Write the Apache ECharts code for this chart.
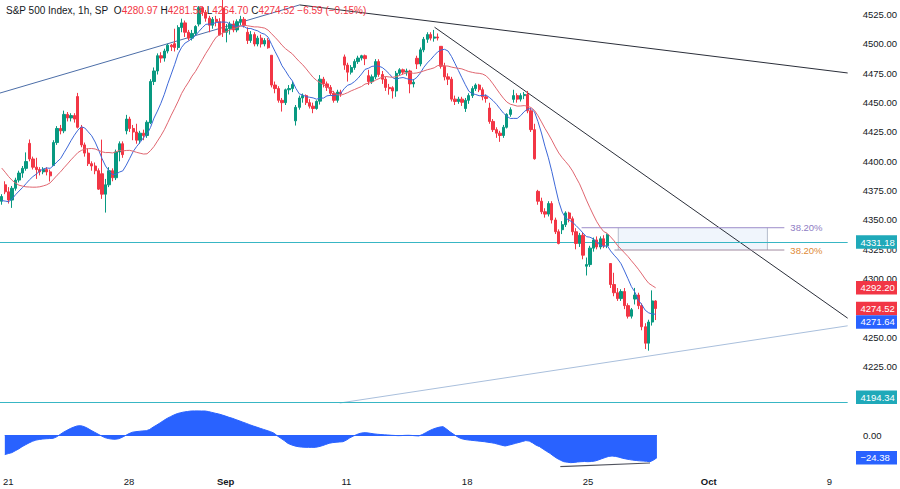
<!DOCTYPE html>
<html><head><meta charset="utf-8">
<script src="https://cdn.jsdelivr.net/npm/echarts/dist/echarts.min.js"></script>
<style>html,body{margin:0;padding:0;background:#fff}#c{width:900px;height:489px}</style>
</head><body><div id="c"></div>
<script>
// ---------- data ----------
const tradingDays = ['08-18','08-21','08-22','08-23','08-24','08-25','08-28','08-29','08-30','08-31','09-01',
  '09-05','09-06','09-07','09-08','09-11','09-12','09-13','09-14','09-15','09-18','09-19','09-20','09-21','09-22',
  '09-25','09-26','09-27','09-28','09-29','10-02','10-03','10-04','10-05','10-06','10-09'];
const sessionHours = ['09:30','10:30','11:30','12:30','13:30','14:30','15:30'];
const xTickLabels = {'08-21 09:30':'21','08-28 09:30':'28','09-01 09:30':'Sep','09-11 09:30':'11',
  '09-18 09:30':'18','09-25 09:30':'25','10-02 09:30':'Oct','10-09 09:30':'9'};
const boldTicks = ['Sep','Oct'];
// price-scale ticks that are visible (the others sit behind price tags)
const priceTicks = [4225, 4250, 4300, 4325, 4350, 4375, 4400, 4425, 4450, 4475, 4500, 4525];

const opens = [4366,
 4380,4374,4367,4377,4384,4390,4394,
 4415.3,4402,4395,4393,4391,4393,4391,
 4396.4,4416,4428,4426,4440,4437,4439,
 4455.2,4429,4414,4407,4398,4396,4392,
 4389.4,4372,4380,4392,4386,4408,4415,
 4426,4436,4428,4425,4418,4424,4422,
 4432.8,4468,4477,4490,4488,4494,4499,
 4500.3,4497,4514,4518,4510,4505,4509,
 4517,4531,4527,4522,4516,4521,4519,
 4530.6,4510,4513,4517,4512,4519,4521,
 4510,4503,4508,4500,4505,4500,4503,
 4490.4,4465,4462,4452,4450,4461,4462,
 4434.5,4446,4454,4456,4450,4447,4445,
 4451.3,4470,4466,4463,4458,4452,4459,
 4489,4482,4476,4480,4485,4488,4490,
 4473,4468,4472,4485,4474,4470,4463,
 4462.7,4460,4475,4478,4476,4477,4466,
 4487.8,4483,4495,4504,4508,4505,4506,
 4498,4481,4472,4470,4453,4451,4453,
 4445,4452,4456,4462,4465,4461,4455,
 4445.4,4434,4427,4424,4422,4429,4440,
 4452.8,4456,4453,4456,4457,4443,4427,
 4374.4,4366,4357,4355,4364,4350,4340,
 4341.7,4346,4356,4351,4340,4330,4337,
 4310.6,4312,4326,4333,4327,4334,4328,
 4312.9,4295,4288,4283,4289,4277,4268,
 4282.6,4286,4277,4259,4245,4263,4280.97];
const closes = [4370,
 4374,4367,4377,4384,4390,4394,4399.8,
 4402,4395,4393,4391,4393,4391,4387.6,
 4416,4428,4426,4440,4437,4439,4436,
 4429,4414,4407,4398,4396,4392,4376.3,
 4372,4380,4392,4386,4408,4415,4405.7,
 4436,4428,4425,4418,4424,4422,4433.3,
 4468,4477,4490,4488,4494,4499,4497.6,
 4497,4514,4518,4510,4505,4509,4514.9,
 4531,4527,4522,4516,4521,4519,4507.7,
 4510,4513,4517,4512,4519,4521,4515.8,
 4503,4508,4500,4505,4500,4503,4496.8,
 4465,4462,4452,4450,4461,4462,4465.5,
 4446,4454,4456,4450,4447,4445,4451.1,
 4470,4466,4463,4458,4452,4459,4457.5,
 4482,4476,4480,4485,4488,4490,4487.5,
 4468,4472,4485,4474,4470,4463,4461.9,
 4460,4475,4478,4476,4477,4466,4467.4,
 4483,4495,4504,4508,4505,4506,4505.1,
 4481,4472,4470,4453,4451,4453,4450.3,
 4452,4456,4462,4465,4461,4455,4453.5,
 4434,4427,4424,4422,4429,4440,4444,
 4456,4453,4456,4457,4443,4427,4402.2,
 4366,4357,4355,4364,4350,4340,4330,
 4346,4356,4351,4340,4330,4337,4320,
 4312,4326,4333,4327,4334,4328,4337.4,
 4295,4288,4283,4289,4277,4268,4273.5,
 4286,4277,4259,4245,4263,4281,4274.52];
const lows = [4363,
 4372,4364,4360.3,4375,4382,4386,4392,
 4400,4393,4385,4388,4389,4388,4382.8,
 4396.4,4414,4423,4424,4434,4434,4433,
 4428,4412,4404,4396,4392,4389,4375.6,
 4368,4356.3,4378,4383,4384,4400,4403,
 4423,4425,4418,4415,4415,4418,4420,
 4431.7,4465,4474,4484,4485,4492,4494,
 4493.6,4495,4510,4506,4503,4503,4507,
 4515,4524,4519,4510,4513,4515,4507.4,
 4506,4501.4,4508,4510,4510,4516,4514,
 4500,4501,4498,4498,4497,4498,4496,
 4463,4458,4450,4442.4,4448,4457,4459,
 4430.5,4444,4450,4448,4445,4441,4444,
 4448.4,4463,4460,4456,4450,4450,4455,
 4478,4468,4474,4478,4483,4486,4482,
 4465,4466,4470,4472,4466,4460,4456.8,
 4453.5,4455,4473,4474,4473,4458,4463,
 4478.7,4481,4493,4501,4503,4502,4503,
 4479,4469,4465,4451,4448,4449,4447.2,
 4442.1,4449,4454,4460,4459,4452,4450,
 4432,4425,4420,4416.6,4420,4428,4438,
 4450,4450,4451,4453,4441,4425,4401.4,
 4363,4355,4352,4353,4347,4338,4329.2,
 4338,4344,4348,4337,4325,4327,4316.5,
 4302.7,4310,4323,4325,4325,4326,4326,
 4292,4285,4281,4281,4274,4266,4266,
 4278,4274,4256,4240,4238.6,4260,4264.7];
const highs = [4372,
 4383,4378,4379,4386,4392,4396,4407.6,
 4418.6,4404,4403,4395,4395,4395,4393,
 4418,4430,4431,4443.2,4442,4441,4441,
 4458.3,4431,4416,4411,4400,4399,4394,
 4418.5,4385,4395,4394,4410,4417,4417,
 4439.6,4438,4431,4432,4426,4427,4435,
 4470,4480,4492,4493,4496,4500.1,4500,
 4513,4516,4521.6,4520,4512,4512,4516,
 4532.3,4532,4529,4524,4523,4524,4522,
 4541.3,4517,4519,4520,4521,4524,4523,
 4514.3,4511,4510,4507,4508,4505,4505,
 4490.4,4468,4464,4454,4462,4465,4468,
 4448,4456,4457.8,4457,4453,4450,4452,
 4473.5,4472,4468,4465,4460,4461,4461,
 4491,4484,4482,4487,4490,4490.8,4491,
 4478,4474,4487.1,4487,4477,4472,4466,
 4464,4477,4479.4,4479,4479,4478,4470,
 4490,4497,4506,4510,4510,4512,4509,
 4498,4484,4475,4472,4456,4455,4455,
 4454,4458,4464,4466.4,4466,4463,4457,
 4449.9,4436,4429,4426,4431,4441,4446,
 4461,4458,4458,4459,4460,4445,4432,
 4375.7,4369,4360,4366,4366,4352,4342,
 4349,4357.4,4357,4353,4343,4339,4339,
 4318,4328,4335,4336,4336,4337,4338.5,
 4313,4305,4292,4291,4292,4279,4275,
 4292.1,4288,4279,4262,4265,4290,4281.58];
// closes of the bars just left of the visible window (moving-average warm-up)
const warmupCloses = [4445,4442,4440,4432,4425,4410,4412,4405,4398,4392,4385,4378,4372,4355,4352,4362,4368,4370,4372];

const oscillator = [
 -21,-20,-19,-17,-15,-12.5,-10.5,-8.5,-6.8,-5.5,
 -4.8,-4.3,-4,-3.8,-3.6,-2,0.5,3,5,7,
 8.5,9.8,10,9,7.2,5,3,1,-1,-2.8,
 -3.8,-4.4,-4.6,-4,-2.5,-0.5,1.5,3,3.6,4,
 4.4,4.6,6,8.5,10.7,13,15.5,17.8,19.7,21.5,
 23,24,24.8,25.3,25.8,25.9,25.9,25.8,25.8,25.2,
 24.3,23.4,22.6,21.5,20.3,19,17.9,16.5,15.2,13.8,
 12.5,11,9.7,8.5,7.2,6,4.8,3.6,2,-1,
 -3.5,-6,-8.9,-10.5,-11.7,-12.5,-13,-13.2,-13.3,-13.3,
 -13.3,-12.5,-11.5,-10.2,-8.9,-8.2,-7.8,-7.5,-7.2,-5.5,
 -3,-1.2,0.5,1.8,2.5,2.3,1.8,1.2,0.8,0.5,
 0.2,0,-0.3,-0.5,-0.7,-0.6,-0.4,-0.3,-0.5,-0.8,
 -1,0.5,2.5,4.5,6.2,7.5,8.5,9,6.5,3.5,
 1,-1.5,-3.5,-4.6,-5.2,-5.6,-6,-6.4,-6.8,-7.2,
 -7.8,-8.3,-9,-10,-11,-11.8,-11,-10,-9,-8,
 -7,-6,-6.5,-8.5,-11,-12.5,-15,-17.5,-19.7,-22.5,
 -25,-27,-28.7,-29.2,-29.7,-29.5,-29,-28.7,-28.5,-28.7,
 -28.5,-28,-26.9,-25.5,-24.2,-23,-22.6,-23,-23.8,-25,
 -25.7,-26.4,-27,-27.4,-27.8,-28,-28.3,-28.7,-27,-24.38];

const horizontalLevels = [4331.18, 4194.34];
const trendLineRising = [[-0.5, 4458.2], [86.1, 4533.3]];
const trendLineUpperFalling = [[86.1, 4533.3], [244.5, 4475.3]];
const trendLineLowerFalling = [[125.1, 4514.3], [244.5, 4266.3]];
const trendLineSupport = [[97.7, 4194.0], [244.5, 4259.8]];
const fibLevels = [4343.4, 4324.4];
const fibLineSpans = [[167.6, 226.2], [177.1, 226.2]];
const fibBoxSpan = [178.2, 221.3];
const oscDivergence = [[161, -33.9], [187, -30.1]];
const priceTags = [[4331.18, '#1fa9b9'], [4292.20, '#f23645'], [4274.52, '#f23645'], [4271.64, '#2962ff'], [4194.34, '#1fa9b9']];
const oscTag = -24.38;
const legendValues = {O: '4280.97', H: '4281.58', L: '4264.70', C: '4274.52', chg: '−6.59 (−0.15%)'};

// ---------- build ----------
const allCats = [];
tradingDays.forEach(d => sessionHours.forEach(h => allCats.push(d + ' ' + h)));
const cats = allCats.slice(6, 6 + 245);
const candles = opens.map((o, i) => [o, closes[i], lows[i], highs[i]]);
function sma(n) {
  const all = warmupCloses.concat(closes);
  const w = warmupCloses.length;
  return closes.map((_, i) => {
    let s = 0;
    for (let k = i + w - n + 1; k <= i + w; k++) s += all[k];
    return +(s / n).toFixed(2);
  });
}
const FONT = '"Liberation Sans", Arial, sans-serif';
const GRID_W = 848.4;
const chart = echarts.init(document.getElementById('c'), null, {renderer: 'svg'});

const seg = (data, color, width, extra) => Object.assign({
  type: 'line', xAxisIndex: 2, yAxisIndex: 0, data: data, symbol: 'none', silent: true,
  lineStyle: {color: color, width: width || 1}, z: 4, animation: false
}, extra || {});

chart.setOption({
  animation: false,
  backgroundColor: '#ffffff',
  grid: [
    {left: 0, top: 0, width: GRID_W, height: 425.3},
    {left: 0, top: 406, width: GRID_W, height: 61}
  ],
  xAxis: [
    {type: 'category', gridIndex: 0, data: cats, boundaryGap: true, show: false},
    {type: 'category', gridIndex: 1, data: cats, boundaryGap: true,
      axisLine: {show: false}, axisTick: {show: false}, splitLine: {show: false},
      axisLabel: {
        margin: 9, interval: (i, v) => xTickLabels[v] !== undefined,
        formatter: v => { const t = xTickLabels[v]; if (!t) return ''; return boldTicks.includes(t) ? '{b|' + t + '}' : t; },
        color: '#131722', fontSize: 9.5, fontFamily: FONT,
        rich: {b: {fontWeight: 'bold', fontSize: 9.5, fontFamily: FONT, color: '#131722'}}
      }},
    {type: 'value', gridIndex: 0, min: -0.5, max: 244.5, show: false}
  ],
  yAxis: [
    {type: 'value', gridIndex: 0, position: 'right', min: 4175, max: 4537.5, interval: 25, scale: true,
      axisLine: {show: false}, axisTick: {show: false}, splitLine: {show: false},
      axisLabel: {margin: 15, color: '#131722', fontSize: 9.5, fontFamily: FONT,
        formatter: v => priceTicks.some(t => Math.abs(t - v) < 1e-6) ? v.toFixed(2) : ''}},
    {type: 'value', gridIndex: 1, position: 'right', min: -34.4, max: 31.18,
      axisLine: {show: false}, axisTick: {show: false}, splitLine: {show: false}, axisLabel: {show: false}}
  ],
  series: [
    {type: 'candlestick', xAxisIndex: 0, yAxisIndex: 0, data: candles, barWidth: '80%', z: 5,
      itemStyle: {color: '#089981', color0: '#f23645', borderColor: '#089981', borderColor0: '#f23645', borderWidth: 1},
      markLine: {silent: true, symbol: 'none', label: {show: false},
        lineStyle: {color: '#38b6c4', width: 1, type: 'solid'},
        data: horizontalLevels.map(v => ({yAxis: v}))}},
    {type: 'line', xAxisIndex: 0, yAxisIndex: 0, data: sma(9), symbol: 'none', z: 6,
      lineStyle: {color: '#3d68d8', width: 1}},
    {type: 'line', xAxisIndex: 0, yAxisIndex: 0, data: sma(20), symbol: 'none', z: 6,
      lineStyle: {color: '#e06670', width: 1}},
    seg(trendLineRising, '#4c6ea8', 1),
    seg(trendLineUpperFalling, '#2a2e39', 1),
    seg(trendLineLowerFalling, '#2a2e39', 1),
    seg(trendLineSupport, '#a9bfdc', 1),
    seg([[fibBoxSpan[0], fibLevels[0]], [fibBoxSpan[0], fibLevels[1]]], '#b4bccc', 1, {
      z: 2,
      markArea: {silent: true, itemStyle: {color: 'rgba(222,232,248,0.45)'},
        data: [[{coord: [fibBoxSpan[0], fibLevels[0]]}, {coord: [fibBoxSpan[1], fibLevels[1]]}]]}}),
    seg([[fibBoxSpan[1], fibLevels[0]], [fibBoxSpan[1], fibLevels[1]]], '#b4bccc', 1, {z: 2}),
    seg([[fibLineSpans[0][0], fibLevels[0]], [fibLineSpans[0][1], fibLevels[0]]], '#9d8cc9', 1, {
      endLabel: {show: true, formatter: '38.20%', color: '#8e7cc3', fontSize: 9.5, fontFamily: FONT, distance: 6}}),
    seg([[fibLineSpans[1][0], fibLevels[1]], [fibLineSpans[1][1], fibLevels[1]]], '#a38ca0', 1, {
      endLabel: {show: true, formatter: '38.20%', color: '#e08a36', fontSize: 9.5, fontFamily: FONT, distance: 6}}),
    {type: 'line', xAxisIndex: 1, yAxisIndex: 1, data: oscillator, symbol: 'none', z: 3,
      lineStyle: {color: '#2962ff', width: 1}, areaStyle: {color: '#2962ff', opacity: 1, origin: 0},
      markLine: {silent: true, symbol: 'none', label: {show: false}, lineStyle: {color: '#2962ff', width: 1, type: 'solid'},
        data: [[{coord: [0, 0]}, {coord: [oscillator.length - 1, 0]}]]}},
    {type: 'line', xAxisIndex: 1, yAxisIndex: 1, data: oscDivergence, symbol: 'none', z: 4,
      lineStyle: {color: '#50535e', width: 1.2}}
  ]
});

// ---------- price-scale tags & legend ----------
const TAG_H = 13.4;
let tags = priceTags.map(([v, c]) => ({v, c, y: chart.convertToPixel({yAxisIndex: 0}, v)}));
tags.sort((a, b) => a.y - b.y);
for (let i = 1; i < tags.length; i++) if (tags[i].y < tags[i - 1].y + TAG_H) tags[i].y = tags[i - 1].y + TAG_H;
const bottomLimit = 404 - TAG_H / 2;
for (let i = tags.length - 1; i >= 0; i--) {
  const lim = i === tags.length - 1 ? bottomLimit : tags[i + 1].y - TAG_H;
  if (tags[i].y > lim) tags[i].y = lim;
}
const graphics = [];
const addTag = (y, text, bg) => {
  graphics.push({type: 'rect', z: 100, shape: {x: 856, y: y - TAG_H / 2, width: 41, height: TAG_H}, style: {fill: bg}});
  graphics.push({type: 'text', z: 101, x: 860.5, y: y, style: {text: text, fill: '#ffffff', font: '9.5px ' + FONT, textVerticalAlign: 'middle', verticalAlign: 'middle'}});
};
tags.forEach(t => addTag(t.y, t.v.toFixed(2), t.c));
const oscZeroY = chart.convertToPixel({yAxisIndex: 1}, 0);
graphics.push({type: 'text', z: 101, x: 863, y: oscZeroY, style: {text: '0.00', fill: '#131722', font: '9.5px ' + FONT, verticalAlign: 'middle', textVerticalAlign: 'middle'}});
addTag(chart.convertToPixel({yAxisIndex: 1}, oscTag), oscTag.toFixed(2).replace('-', '−'), '#2962ff');
graphics.push({type: 'text', z: 101, left: 6, top: 5, style: {
  text: '{t|S&P 500 Index, 1h, SP}  {k|O}{v|' + legendValues.O + '} {k|H}{v|' + legendValues.H + '} {k|L}{v|' + legendValues.L + '} {k|C}{v|' + legendValues.C + '} {v|' + legendValues.chg + '}',
  font: '10px ' + FONT,
  rich: {t: {fill: '#131722', font: '10px ' + FONT}, k: {fill: '#131722', font: '10px ' + FONT}, v: {fill: '#f23645', font: '10px ' + FONT}}
}});
chart.setOption({graphic: graphics});
</script>
</body></html>
